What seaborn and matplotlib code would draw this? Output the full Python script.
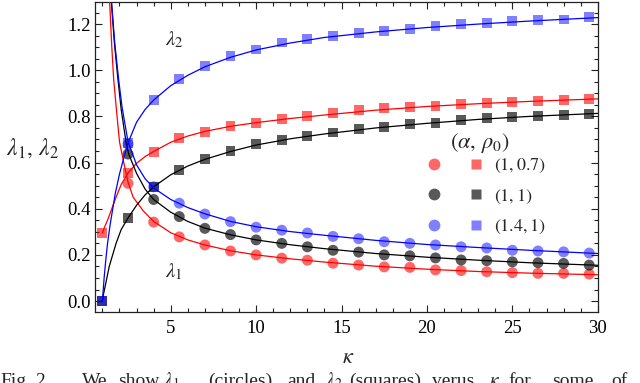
import matplotlib
matplotlib.use("Agg")
import matplotlib.pyplot as plt
from matplotlib.lines import Line2D
from matplotlib.legend_handler import HandlerTuple
from matplotlib.ticker import MultipleLocator
import seaborn as sns

# kappa values of the simulation points
kappa_pts = [1.0, 2.5, 4.0, 5.5, 7.0, 8.5, 10.0, 11.5, 13.0, 14.5,
             16.0, 17.5, 19.0, 20.5, 22.0, 23.5, 25.0, 26.5, 28.0, 29.5]
kappa_circ = kappa_pts[1:]

# lambda_2 (squares)
sq_red = [0.295, 0.555, 0.646, 0.706, 0.732, 0.758, 0.771, 0.788, 0.800, 0.814,
          0.827, 0.835, 0.840, 0.845, 0.853, 0.858, 0.862, 0.868, 0.870, 0.875]
sq_black = [0.0, 0.360, 0.495, 0.568, 0.615, 0.650, 0.680, 0.698, 0.715, 0.730,
            0.745, 0.755, 0.767, 0.773, 0.785, 0.792, 0.797, 0.800, 0.805, 0.810]
sq_blue = [0.0, 0.685, 0.871, 0.962, 1.020, 1.060, 1.090, 1.120, 1.135, 1.150,
           1.160, 1.170, 1.180, 1.190, 1.200, 1.205, 1.213, 1.217, 1.220, 1.230]

# lambda_1 (circles)
ci_red = [0.510, 0.342, 0.278, 0.243, 0.217, 0.200, 0.186, 0.177, 0.164, 0.156,
          0.148, 0.146, 0.135, 0.132, 0.127, 0.123, 0.120, 0.120, 0.117]
ci_black = [0.637, 0.440, 0.366, 0.315, 0.288, 0.265, 0.250, 0.235, 0.220, 0.212,
            0.200, 0.196, 0.187, 0.178, 0.175, 0.170, 0.166, 0.163, 0.156]
ci_blue = [0.680, 0.495, 0.424, 0.377, 0.344, 0.320, 0.307, 0.295, 0.280, 0.270,
           0.257, 0.250, 0.243, 0.235, 0.230, 0.220, 0.217, 0.213, 0.208]

# theory curves
l2_red_k = [1.0, 1.15, 1.3, 1.5, 1.8, 2.1, 2.5, 3.0, 3.5, 4.0, 5.0, 6.0, 7.0, 8.5,
            10, 12, 14, 17, 20, 23, 26, 30]
l2_red_v = [0.295, 0.325, 0.35, 0.39, 0.45, 0.505, 0.555, 0.597, 0.626, 0.648, 0.688,
            0.715, 0.735, 0.757, 0.773, 0.791, 0.806, 0.827, 0.843, 0.855, 0.865, 0.876]
l2_black_k = [1.0, 1.05, 1.15, 1.4, 1.8, 2.1, 2.5, 3.0, 3.5, 4.0, 5, 6, 7, 8.5,
              10, 12, 14, 17, 20, 23, 26, 30]
l2_black_v = [0.0, 0.025, 0.06, 0.15, 0.25, 0.31, 0.36, 0.415, 0.46, 0.495, 0.547,
              0.585, 0.614, 0.648, 0.676, 0.703, 0.724, 0.75, 0.77, 0.787, 0.8, 0.813]
l2_blue_k = [1.0, 1.1, 1.2, 1.3, 1.45, 1.75, 2.0, 2.25, 2.5, 3.0, 3.5, 4.0, 5, 6, 7,
             8.5, 10, 12, 14, 17, 20, 23, 26, 30]
l2_blue_v = [0.0, 0.10, 0.18, 0.25, 0.33, 0.465, 0.55, 0.62, 0.685, 0.775, 0.83, 0.871,
             0.933, 0.978, 1.015, 1.056, 1.088, 1.118, 1.142, 1.166, 1.185, 1.2, 1.213, 1.228]

l1_red_k = [1.3, 1.42, 1.55, 1.66, 1.82, 2.0, 2.25, 2.5, 2.8, 3.4, 4.0, 5.0, 6.0, 7.0,
            8.5, 10, 12, 14, 17, 20, 23, 26, 30]
l1_red_v = [1.62, 1.30, 1.10, 0.96, 0.83, 0.69, 0.60, 0.515, 0.45, 0.39, 0.345, 0.296,
            0.265, 0.243, 0.218, 0.200, 0.183, 0.169, 0.151, 0.138, 0.128, 0.121, 0.114]
l1_black_k = [1.4, 1.52, 1.7, 1.91, 2.1, 2.4, 2.55, 3.0, 3.5, 4.0, 5, 6, 7, 8.5,
              10, 12, 14, 17, 20, 23, 26, 30]
l1_black_v = [1.62, 1.30, 1.12, 0.96, 0.83, 0.68, 0.635, 0.553, 0.485, 0.44, 0.385,
              0.345, 0.316, 0.287, 0.265, 0.244, 0.227, 0.206, 0.19, 0.177, 0.166, 0.155]
l1_blue_k = [1.4, 1.53, 1.72, 1.95, 2.15, 2.5, 3.0, 3.5, 4.0, 5, 6, 7, 8.5,
             10, 12, 14, 17, 20, 23, 26, 30]
l1_blue_v = [1.62, 1.30, 1.12, 0.96, 0.84, 0.69, 0.59, 0.53, 0.49, 0.44, 0.405, 0.378,
             0.345, 0.322, 0.301, 0.285, 0.263, 0.245, 0.232, 0.22, 0.206]

legend_labels = [r"$(1, 0.7)$", r"$(1, 1)$", r"$(1.4, 1)$"]

# caption under the figure (cut off at the bottom edge, as in the source)
caption_words = ["Fig.", "2.", "We", "show", r"$\lambda_1$", "(circles)", "and",
                 r"$\lambda_2$", "(squares)", "verus", r"$\kappa$", "for", "some", "of"]
caption_x_px = [0, 35, 82, 118, 163, 208, 287, 325, 349, 432, 489, 508, 552, 611]

sns.set_style("ticks")
plt.rcParams["font.family"] = ["Liberation Serif", "DejaVu Serif"]
plt.rcParams["mathtext.fontset"] = "stix"

fig = plt.figure(figsize=(6.4, 3.83), dpi=100)
ax = fig.add_axes([0.148, 0.185, 0.786, 0.81])

series = [
    ("red", 0.6, sq_red, ci_red, l2_red_k, l2_red_v, l1_red_k, l1_red_v),
    ("black", 0.65, sq_black, ci_black, l2_black_k, l2_black_v, l1_black_k, l1_black_v),
    ("blue", 0.5, sq_blue, ci_blue, l2_blue_k, l2_blue_v, l1_blue_k, l1_blue_v),
]

for col, a, sq, ci, k2, v2, k1, v1 in series:
    sns.scatterplot(x=kappa_pts, y=sq, marker="s", s=50, color=col, alpha=a,
                    edgecolor="none", ax=ax, zorder=2)
    sns.scatterplot(x=kappa_circ, y=ci, marker="o", s=62, color=col, alpha=a,
                    edgecolor="none", ax=ax, zorder=2)
    sns.lineplot(x=k2, y=v2, color=col, linewidth=0.9, sort=False, estimator=None,
                 ax=ax, zorder=3)
    sns.lineplot(x=k1, y=v1, color=col, linewidth=0.9, sort=False, estimator=None,
                 ax=ax, zorder=3)

ax.set_xlim(0.55, 30.0)
ax.set_ylim(-0.048, 1.296)
ax.xaxis.set_major_locator(MultipleLocator(5))
ax.xaxis.set_minor_locator(MultipleLocator(1))
ax.yaxis.set_major_locator(MultipleLocator(0.2))
ax.yaxis.set_minor_locator(MultipleLocator(0.05))
ax.set_xticks([5, 10, 15, 20, 25, 30])
ax.set_yticks([0.0, 0.2, 0.4, 0.6, 0.8, 1.0, 1.2])
ax.set_yticklabels(["0.0", "0.2", "0.4", "0.6", "0.8", "1.0", "1.2"])
ax.tick_params(which="both", direction="in", top=True, right=True, colors="#222222",
               width=0.8, labelsize=13.5, labelcolor="black")
ax.tick_params(which="major", length=5)
ax.tick_params(which="minor", length=3)
ax.tick_params(axis="x", pad=6)
ax.tick_params(axis="y", pad=3)
for sp in ax.spines.values():
    sp.set_linewidth(0.9)
    sp.set_color("#222222")

ax.set_xlabel(r"$\kappa$", fontsize=16)
ax.xaxis.set_label_coords(0.503, -0.12)
ax.set_ylabel(r"$\lambda_1,\,\lambda_2$", fontsize=17, rotation=0, ha="center", va="center")
ax.yaxis.set_label_coords(-0.123, 0.53)

ax.text(5.2, 1.13, r"$\lambda_2$", fontsize=15, ha="center", va="center")
ax.text(5.2, 0.128, r"$\lambda_1$", fontsize=15, ha="center", va="center")

handles = []
for col, a, *_ in series:
    c = Line2D([], [], marker="o", linestyle="none", markersize=8.5,
               markerfacecolor=col, markeredgecolor="none", alpha=a)
    s = Line2D([], [], marker="s", linestyle="none", markersize=7,
               markerfacecolor=col, markeredgecolor="none", alpha=a)
    handles.append((c, s))
leg = ax.legend(handles, legend_labels,
                handler_map={tuple: HandlerTuple(ndivide=None, pad=1.85)},
                handlelength=2.75, handletextpad=0.8, labelspacing=0.68,
                fontsize=13, frameon=False,
                loc="upper left", bbox_to_anchor=(0.667, 0.50),
                borderpad=0, borderaxespad=0)
ax.text(0.765, 0.545, r"$(\alpha,\,\rho_0)$", transform=ax.transAxes,
        fontsize=16, ha="center", va="center")

for word, xp in zip(caption_words, caption_x_px):
    fig.text(xp / 640, -0.008, word, fontsize=14, ha="left", va="baseline")

fig.savefig("out.png", dpi=100)
